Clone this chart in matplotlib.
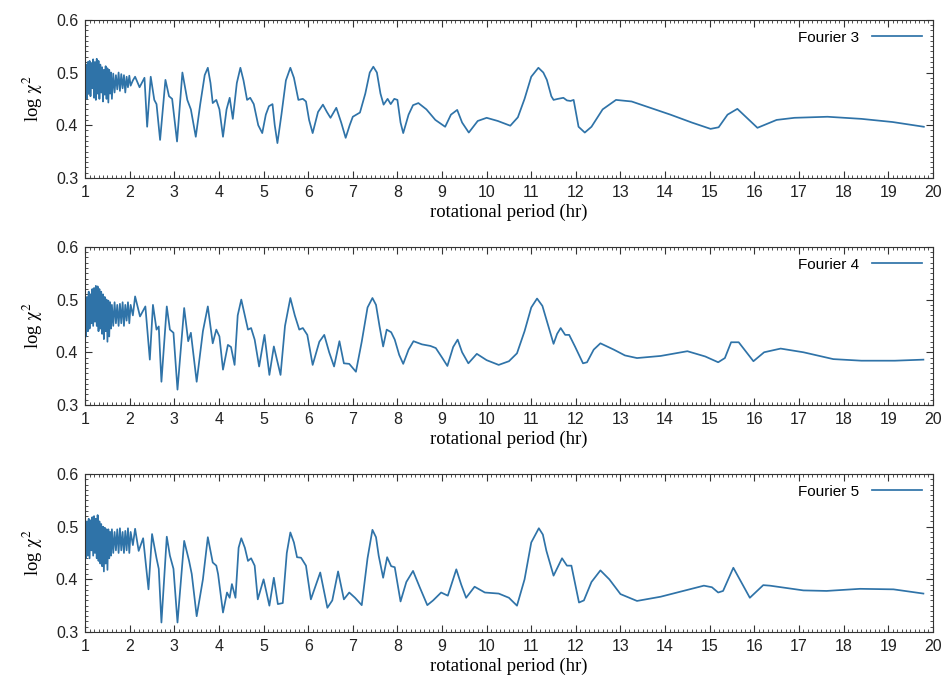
import matplotlib

matplotlib.use('Agg')  # no GUI backend
import matplotlib.pyplot as plt
from matplotlib.ticker import MultipleLocator

# Fourier 3 fit: log chi^2 vs rotational period (hr)
f3_x = [1.00, 1.02, 1.04, 1.06, 1.08, 1.10, 1.12, 1.14, 1.16, 1.18,
        1.20, 1.22, 1.24, 1.26, 1.28, 1.30, 1.32, 1.34, 1.36, 1.38,
        1.40, 1.42, 1.44, 1.46, 1.48, 1.50, 1.52, 1.54, 1.56, 1.58,
        1.60, 1.63, 1.66, 1.69, 1.72, 1.75, 1.78, 1.81, 1.84, 1.87,
        1.90, 1.93, 1.96, 1.99, 2.02, 2.07, 2.12, 2.22, 2.33, 2.39,
        2.47, 2.55, 2.60, 2.68, 2.80, 2.88, 2.95, 3.06, 3.18, 3.29,
        3.37, 3.48, 3.58, 3.68, 3.75, 3.81, 3.86, 3.94, 4.01, 4.09,
        4.17, 4.24, 4.31, 4.40, 4.48, 4.55, 4.63, 4.70, 4.78, 4.88,
        4.97, 5.05, 5.12, 5.20, 5.25, 5.31, 5.40, 5.50, 5.60, 5.68,
        5.78, 5.88, 5.95, 6.02, 6.10, 6.22, 6.33, 6.42, 6.50, 6.63,
        6.74, 6.84, 6.93, 7.00, 7.16, 7.28, 7.38, 7.46, 7.54, 7.62,
        7.69, 7.78, 7.85, 7.93, 8.00, 8.07, 8.13, 8.25, 8.35, 8.47,
        8.65, 8.85, 9.07, 9.20, 9.34, 9.45, 9.60, 9.80, 10.00, 10.25,
        10.53, 10.70, 10.85, 11.00, 11.16, 11.27, 11.35, 11.45, 11.50, 11.60,
        11.72, 11.80, 11.88, 11.95, 12.06, 12.20, 12.35, 12.60, 12.90, 13.25,
        13.70, 14.12, 14.60, 15.02, 15.20, 15.40, 15.62, 16.07, 16.50, 16.90,
        17.64, 18.40, 19.10, 19.80]
f3_y = [0.470, 0.515, 0.450, 0.520, 0.460, 0.522, 0.455, 0.518, 0.470, 0.525,
        0.452, 0.520, 0.448, 0.526, 0.460, 0.522, 0.450, 0.515, 0.462, 0.510,
        0.445, 0.505, 0.458, 0.512, 0.450, 0.508, 0.443, 0.505, 0.460, 0.500,
        0.450, 0.498, 0.462, 0.495, 0.468, 0.500, 0.465, 0.497, 0.470, 0.495,
        0.462, 0.492, 0.472, 0.494, 0.475, 0.485, 0.492, 0.472, 0.490, 0.397,
        0.492, 0.448, 0.440, 0.372, 0.486, 0.455, 0.450, 0.369, 0.500, 0.448,
        0.430, 0.378, 0.440, 0.495, 0.509, 0.480, 0.442, 0.448, 0.430, 0.378,
        0.430, 0.452, 0.412, 0.480, 0.509, 0.485, 0.448, 0.452, 0.440, 0.400,
        0.385, 0.420, 0.436, 0.440, 0.400, 0.366, 0.420, 0.485, 0.509, 0.490,
        0.448, 0.450, 0.445, 0.410, 0.385, 0.425, 0.439, 0.425, 0.414, 0.433,
        0.405, 0.376, 0.400, 0.416, 0.424, 0.460, 0.500, 0.511, 0.500, 0.460,
        0.439, 0.450, 0.440, 0.450, 0.448, 0.405, 0.385, 0.420, 0.438, 0.442,
        0.430, 0.410, 0.397, 0.420, 0.429, 0.405, 0.386, 0.408, 0.414, 0.408,
        0.399, 0.415, 0.450, 0.492, 0.509, 0.500, 0.486, 0.455, 0.448, 0.450,
        0.452, 0.447, 0.446, 0.448, 0.397, 0.386, 0.397, 0.430, 0.448, 0.445,
        0.432, 0.420, 0.405, 0.393, 0.396, 0.420, 0.431, 0.395, 0.410, 0.414,
        0.416, 0.412, 0.406, 0.397]

# Fourier 4 fit
f4_x = [1.00, 1.02, 1.04, 1.06, 1.08, 1.10, 1.12, 1.14, 1.16, 1.18,
        1.20, 1.22, 1.24, 1.26, 1.28, 1.30, 1.32, 1.34, 1.36, 1.38,
        1.40, 1.42, 1.44, 1.46, 1.48, 1.50, 1.52, 1.54, 1.56, 1.58,
        1.60, 1.63, 1.66, 1.69, 1.72, 1.75, 1.78, 1.81, 1.84, 1.87,
        1.90, 1.93, 1.96, 1.99, 2.02, 2.07, 2.12, 2.23, 2.35, 2.45,
        2.52, 2.60, 2.65, 2.71, 2.83, 2.90, 2.98, 3.07, 3.22, 3.31,
        3.37, 3.50, 3.64, 3.75, 3.86, 3.94, 4.01, 4.09, 4.20, 4.27,
        4.35, 4.42, 4.50, 4.58, 4.65, 4.72, 4.80, 4.90, 5.02, 5.13,
        5.23, 5.38, 5.48, 5.60, 5.70, 5.80, 5.88, 5.98, 6.10, 6.25,
        6.36, 6.47, 6.58, 6.70, 6.80, 6.92, 7.07, 7.20, 7.33, 7.44,
        7.52, 7.60, 7.68, 7.76, 7.86, 7.94, 8.04, 8.13, 8.25, 8.36,
        8.55, 8.74, 8.86, 9.00, 9.12, 9.25, 9.35, 9.45, 9.59, 9.78,
        10.00, 10.27, 10.50, 10.68, 10.85, 11.00, 11.13, 11.25, 11.36, 11.50,
        11.58, 11.66, 11.76, 11.85, 11.98, 12.16, 12.25, 12.40, 12.55, 12.85,
        13.10, 13.37, 13.90, 14.50, 14.90, 15.19, 15.34, 15.48, 15.65, 15.98,
        16.22, 16.59, 17.10, 17.77, 18.40, 19.15, 19.79]
f4_y = [0.470, 0.430, 0.505, 0.440, 0.515, 0.445, 0.510, 0.455, 0.520, 0.450,
        0.522, 0.458, 0.526, 0.450, 0.525, 0.440, 0.520, 0.445, 0.515, 0.435,
        0.510, 0.425, 0.505, 0.440, 0.500, 0.420, 0.498, 0.430, 0.495, 0.445,
        0.490, 0.450, 0.495, 0.455, 0.490, 0.450, 0.492, 0.455, 0.495, 0.450,
        0.490, 0.460, 0.495, 0.455, 0.490, 0.470, 0.506, 0.468, 0.487, 0.386,
        0.490, 0.443, 0.449, 0.344, 0.487, 0.443, 0.437, 0.329, 0.484, 0.421,
        0.437, 0.344, 0.440, 0.487, 0.417, 0.443, 0.430, 0.367, 0.414, 0.410,
        0.376, 0.470, 0.500, 0.470, 0.443, 0.446, 0.424, 0.373, 0.433, 0.357,
        0.411, 0.357, 0.450, 0.503, 0.470, 0.443, 0.446, 0.433, 0.376, 0.420,
        0.433, 0.400, 0.373, 0.421, 0.379, 0.378, 0.363, 0.420, 0.485, 0.503,
        0.490, 0.449, 0.411, 0.443, 0.438, 0.424, 0.395, 0.378, 0.405, 0.421,
        0.415, 0.412, 0.408, 0.390, 0.374, 0.410, 0.424, 0.400, 0.379, 0.397,
        0.385, 0.376, 0.383, 0.398, 0.440, 0.485, 0.502, 0.488, 0.456, 0.416,
        0.435, 0.446, 0.433, 0.433, 0.411, 0.379, 0.381, 0.405, 0.417, 0.405,
        0.394, 0.389, 0.393, 0.402, 0.392, 0.381, 0.389, 0.419, 0.419, 0.383,
        0.400, 0.407, 0.400, 0.387, 0.384, 0.384, 0.386]

# Fourier 5 fit
f5_x = [1.00, 1.02, 1.04, 1.06, 1.08, 1.10, 1.12, 1.14, 1.16, 1.18,
        1.20, 1.22, 1.24, 1.26, 1.28, 1.30, 1.32, 1.34, 1.36, 1.38,
        1.40, 1.42, 1.44, 1.46, 1.48, 1.50, 1.52, 1.54, 1.56, 1.58,
        1.60, 1.63, 1.66, 1.69, 1.72, 1.75, 1.78, 1.81, 1.84, 1.87,
        1.90, 1.93, 1.96, 1.99, 2.02, 2.07, 2.12, 2.20, 2.30, 2.42,
        2.50, 2.60, 2.65, 2.71, 2.83, 2.90, 2.98, 3.07, 3.22, 3.33,
        3.39, 3.50, 3.64, 3.75, 3.86, 3.94, 3.98, 4.09, 4.18, 4.24,
        4.29, 4.37, 4.44, 4.50, 4.58, 4.65, 4.72, 4.80, 4.87, 5.00,
        5.13, 5.23, 5.32, 5.43, 5.52, 5.60, 5.68, 5.75, 5.84, 5.95,
        6.06, 6.27, 6.43, 6.54, 6.67, 6.80, 6.92, 7.05, 7.20, 7.33,
        7.44, 7.52, 7.58, 7.68, 7.77, 7.86, 7.94, 8.07, 8.20, 8.35,
        8.50, 8.67, 8.80, 8.98, 9.13, 9.32, 9.43, 9.54, 9.73, 9.96,
        10.27, 10.50, 10.68, 10.85, 11.00, 11.17, 11.26, 11.34, 11.50, 11.69,
        11.80, 11.90, 12.07, 12.18, 12.35, 12.55, 12.75, 13.00, 13.37, 13.90,
        14.87, 15.05, 15.19, 15.30, 15.53, 15.90, 16.20, 16.35, 17.10, 17.62,
        18.37, 19.12, 19.79]
f5_y = [0.480, 0.440, 0.510, 0.445, 0.515, 0.440, 0.512, 0.455, 0.518, 0.445,
        0.520, 0.450, 0.515, 0.440, 0.522, 0.435, 0.510, 0.430, 0.505, 0.425,
        0.500, 0.415, 0.498, 0.430, 0.495, 0.418, 0.495, 0.440, 0.490, 0.445,
        0.495, 0.450, 0.490, 0.455, 0.495, 0.450, 0.497, 0.455, 0.490, 0.450,
        0.492, 0.455, 0.497, 0.450, 0.490, 0.465, 0.496, 0.454, 0.478, 0.381,
        0.486, 0.440, 0.420, 0.318, 0.481, 0.445, 0.420, 0.318, 0.473, 0.435,
        0.410, 0.330, 0.400, 0.480, 0.432, 0.426, 0.410, 0.337, 0.375, 0.365,
        0.391, 0.365, 0.460, 0.478, 0.460, 0.435, 0.440, 0.426, 0.362, 0.400,
        0.350, 0.403, 0.353, 0.355, 0.450, 0.489, 0.470, 0.442, 0.441, 0.426,
        0.362, 0.413, 0.346, 0.360, 0.415, 0.362, 0.375, 0.365, 0.351, 0.440,
        0.494, 0.480, 0.445, 0.403, 0.442, 0.425, 0.423, 0.358, 0.395, 0.416,
        0.385, 0.351, 0.360, 0.375, 0.369, 0.419, 0.390, 0.365, 0.386, 0.375,
        0.373, 0.365, 0.350, 0.400, 0.470, 0.497, 0.485, 0.454, 0.407, 0.440,
        0.426, 0.426, 0.356, 0.360, 0.395, 0.417, 0.400, 0.372, 0.359, 0.367,
        0.388, 0.385, 0.375, 0.378, 0.422, 0.365, 0.389, 0.388, 0.379, 0.378,
        0.382, 0.381, 0.373]

panels = [(f3_x, f3_y, 'Fourier 3'),
          (f4_x, f4_y, 'Fourier 4'),
          (f5_x, f5_y, 'Fourier 5')]

line_color = '#2f73a8'
sans = ['Liberation Sans', 'DejaVu Sans']
serif = ['Liberation Serif', 'DejaVu Serif']
plt.rcParams['mathtext.fontset'] = 'stix'

fig, axes = plt.subplots(3, 1, figsize=(9.46, 6.84), dpi=100)
fig.subplots_adjust(left=0.09, right=0.986, top=0.971, bottom=0.076, hspace=0.437)

for ax, (xs, ys, name) in zip(axes, panels):
    ax.plot(xs, ys, color=line_color, lw=1.25, label=name)
    ax.set_xlim(1, 20)
    ax.set_ylim(0.3, 0.6)
    ax.xaxis.set_major_locator(MultipleLocator(1))
    ax.xaxis.set_minor_locator(MultipleLocator(0.1))
    ax.yaxis.set_major_locator(MultipleLocator(0.1))
    ax.yaxis.set_minor_locator(MultipleLocator(0.01))
    ax.tick_params(which='both', direction='in', top=True, right=True,
                   colors='#333333', labelcolor='#222222')
    ax.tick_params(which='major', length=5, width=0.8, labelsize=11.5, pad=5)
    ax.tick_params(which='minor', length=2.5, width=0.6)
    for lab in ax.get_xticklabels() + ax.get_yticklabels():
        lab.set_family(sans)
    for sp in ax.spines.values():
        sp.set_linewidth(0.8)
        sp.set_color('#333333')
    ax.set_xlabel('rotational period (hr)', family=serif, fontsize=13.5, labelpad=3)
    ax.set_ylabel(r'log $\mathrm{\chi}^2$', family=serif, fontsize=13.5, labelpad=8)
    ax.legend(loc='upper right', frameon=False, markerfirst=False,
              handlelength=3.3, borderaxespad=0.3,
              prop={'family': sans, 'size': 11})

plt.savefig('out.png')
plt.close()
